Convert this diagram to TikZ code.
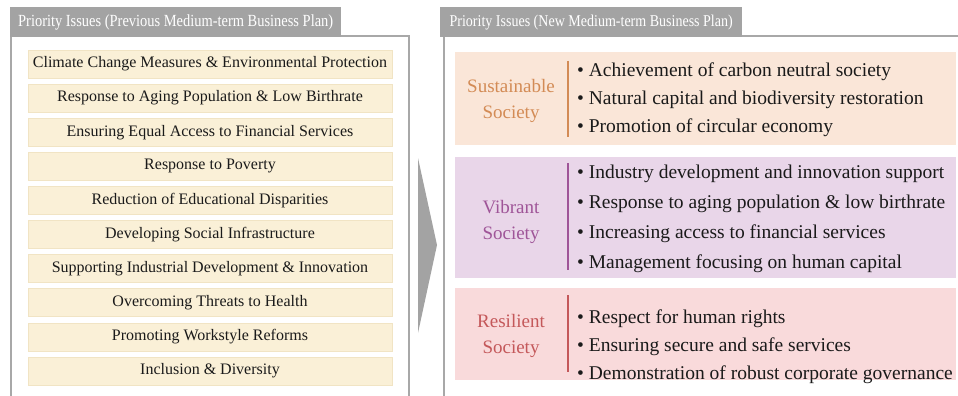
\documentclass[tikz,border=0pt]{standalone}
\usepackage{fontspec}
\setmainfont{Liberation Serif}
\newfontfamily\tabfont[FakeStretch=0.85]{Liberation Serif}
\usetikzlibrary{positioning}

\definecolor{tabgray}{HTML}{A3A3A3}
\definecolor{framegray}{HTML}{A8A8A8}
\definecolor{issuefill}{HTML}{FAF0D7}
\definecolor{issueedge}{HTML}{F1E4C4}
\definecolor{susfill}{HTML}{FAE6D8}
\definecolor{suscol}{HTML}{D38B55}
\definecolor{vibfill}{HTML}{E9D6E9}
\definecolor{vibcol}{HTML}{9F5598}
\definecolor{resfill}{HTML}{F9DADB}
\definecolor{rescol}{HTML}{C4585A}
\definecolor{textdark}{HTML}{1A1A1A}

\begin{document}
\begin{tikzpicture}[x=1pt,y=-1pt,
	tab/.style={fill=tabgray, text=white, font=\tabfont\fontsize{17}{17}\selectfont,
		anchor=north west, minimum height=30pt, inner sep=0pt},
	frame/.style={draw=framegray, line width=2pt},
	issue/.style={fill=issuefill, draw=issueedge, line width=0.6pt, minimum width=364pt,
		minimum height=28pt, inner sep=0pt, text=textdark, font=\fontsize{16}{18}\selectfont},
	group/.style={minimum width=501pt, inner sep=0pt},
	grouplabel/.style={align=center, inner sep=0pt, font=\fontsize{19}{25.5}\selectfont},
	items/.style={align=left, anchor=west, inner sep=0pt, text=textdark},
	bar/.style={line width=2.2pt}]
	\useasboundingbox (0,0) rectangle (958,396);

	% previous plan
	\draw[frame] (11,396) -- (11,36) -- (409,36) -- (409,396);
	\node[tab, minimum width=331pt] (tabold) at (10,7) {Priority Issues (Previous Medium-term Business Plan)};
	\foreach \txt [count=\i from 0] in {Climate Change Measures \& Environmental Protection,
			Response to Aging Population \& Low Birthrate,
			Ensuring Equal Access to Financial Services,
			Response to Poverty,
			Reduction of Educational Disparities,
			Developing Social Infrastructure,
			Supporting Industrial Development \& Innovation,
			Overcoming Threats to Health,
			Promoting Workstyle Reforms,
			Inclusion \& Diversity}
		\node[issue] (issue\i) at (210,64+34.1*\i) {\txt};

	% arrow
	\fill[tabgray] (418,158) -- (437,245) -- (418,333) -- cycle;

	% new plan
	\draw[frame] (444,396) -- (444,36) -- (960,36);
	\node[tab, minimum width=302pt, font=\tabfont\fontsize{16.5}{17}\selectfont] (tabnew) at (440,7)
		{Priority Issues (New Medium-term Business Plan)};

	\node[group, fill=susfill, minimum height=93pt] (sus) at (705.5,98.5) {};
	\node[grouplabel, text=suscol] (suslabel) at (511,101) {Sustainable\\Society};
	\draw[bar, draw=suscol] (568,61) -- (568,137);
	\node[items, font=\fontsize{19.5}{28}\selectfont] (susitems) at (577,100) {%
		• Achievement of carbon neutral society\\
		• Natural capital and biodiversity restoration\\
		• Promotion of circular economy};

	\node[group, fill=vibfill, minimum height=121pt] (vib) at (705.5,217.5) {};
	\node[grouplabel, text=vibcol] (viblabel) at (511,222) {Vibrant\\Society};
	\draw[bar, draw=vibcol] (568,163) -- (568,270);
	\node[items, font=\fontsize{19.5}{30}\selectfont] (vibitems) at (577,219) {%
		• Industry development and innovation support\\
		• Response to aging population \& low birthrate\\
		• Increasing access to financial services\\
		• Management focusing on human capital};

	\node[group, fill=resfill, minimum height=92pt] (res) at (705.5,334) {};
	\node[grouplabel, text=rescol] (reslabel) at (511,336) {Resilient\\Society};
	\draw[bar, draw=rescol] (568,295) -- (568,372);
	\node[items, font=\fontsize{19.5}{28}\selectfont] (resitems) at (577,347) {%
		• Respect for human rights\\
		• Ensuring secure and safe services\\
		• Demonstration of robust corporate governance};
\end{tikzpicture}
\end{document}
